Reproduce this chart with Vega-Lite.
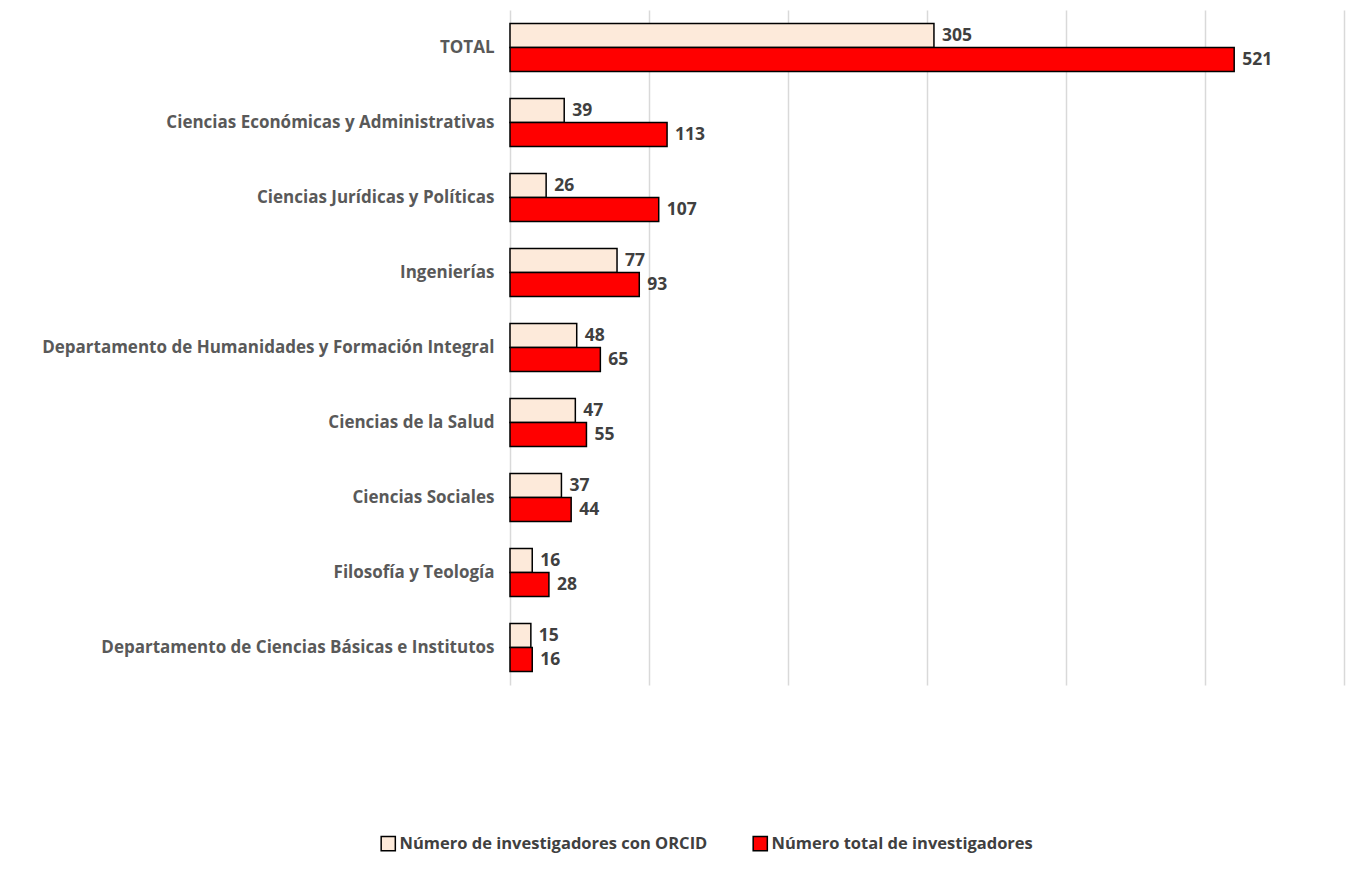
{
  "$schema": "https://vega.github.io/schema/vega-lite/v6.json",
  "autosize": {"type": "none"},
  "width": 834,
  "height": 675,
  "padding": {"left": 510, "top": 10, "right": 14, "bottom": 198},
  "background": "white",
  "config": {"view": {"stroke": null}, "font": "Open Sans"},
  "data": {"values": [
    {"cat": "TOTAL", "serie": "Número de investigadores con ORCID", "valor": 305},
    {"cat": "TOTAL", "serie": "Número total de investigadores", "valor": 521},
    {"cat": "Ciencias Económicas y Administrativas", "serie": "Número de investigadores con ORCID", "valor": 39},
    {"cat": "Ciencias Económicas y Administrativas", "serie": "Número total de investigadores", "valor": 113},
    {"cat": "Ciencias Jurídicas y Políticas", "serie": "Número de investigadores con ORCID", "valor": 26},
    {"cat": "Ciencias Jurídicas y Políticas", "serie": "Número total de investigadores", "valor": 107},
    {"cat": "Ingenierías", "serie": "Número de investigadores con ORCID", "valor": 77},
    {"cat": "Ingenierías", "serie": "Número total de investigadores", "valor": 93},
    {"cat": "Departamento de Humanidades y Formación Integral", "serie": "Número de investigadores con ORCID", "valor": 48},
    {"cat": "Departamento de Humanidades y Formación Integral", "serie": "Número total de investigadores", "valor": 65},
    {"cat": "Ciencias de la Salud", "serie": "Número de investigadores con ORCID", "valor": 47},
    {"cat": "Ciencias de la Salud", "serie": "Número total de investigadores", "valor": 55},
    {"cat": "Ciencias Sociales", "serie": "Número de investigadores con ORCID", "valor": 37},
    {"cat": "Ciencias Sociales", "serie": "Número total de investigadores", "valor": 44},
    {"cat": "Filosofía y Teología", "serie": "Número de investigadores con ORCID", "valor": 16},
    {"cat": "Filosofía y Teología", "serie": "Número total de investigadores", "valor": 28},
    {"cat": "Departamento de Ciencias Básicas e Institutos", "serie": "Número de investigadores con ORCID", "valor": 15},
    {"cat": "Departamento de Ciencias Básicas e Institutos", "serie": "Número total de investigadores", "valor": 16}
  ]},
  "encoding": {
    "y": {
      "field": "cat", "type": "nominal", "sort": null, "title": null,
      "scale": {"paddingInner": 0.36, "paddingOuter": 0.18},
      "axis": {"domain": false, "ticks": false, "labelPadding": 16, "labelFont": "Open Sans", "labelFontSize": 17, "labelFontWeight": "bold", "labelColor": "#595959", "labelLimit": 600}
    },
    "yOffset": {"field": "serie", "type": "nominal", "sort": ["Número de investigadores con ORCID", "Número total de investigadores"]},
    "x": {
      "field": "valor", "type": "quantitative", "title": null,
      "scale": {"domain": [0, 600], "nice": false},
      "axis": {"domain": false, "ticks": false, "labels": false, "grid": true, "gridColor": "#d9d9d9", "gridWidth": 1.5, "values": [0, 100, 200, 300, 400, 500, 600]}
    }
  },
  "layer": [
    {
      "mark": {"type": "bar", "stroke": "#000000", "strokeWidth": 1.5},
      "encoding": {
        "color": {
          "field": "serie", "type": "nominal", "title": null,
          "scale": {"domain": ["Número de investigadores con ORCID", "Número total de investigadores"], "range": ["#FDEADA", "#FF0000"]},
          "legend": {
            "orient": "none", "legendX": -130, "legendY": 825, "direction": "horizontal",
            "symbolType": "square", "symbolSize": 200, "symbolStrokeColor": "#000000", "symbolStrokeWidth": 1.5,
            "labelFont": "Open Sans", "labelFontSize": 16.5, "labelFontWeight": "bold", "labelColor": "#404040", "labelLimit": 400,
            "columnPadding": 42, "symbolOffset": 0, "labelOffset": 3
          }
        }
      }
    },
    {
      "mark": {"type": "text", "align": "left", "baseline": "middle", "dx": 8, "font": "Open Sans", "fontSize": 17.5, "fontWeight": "bold", "color": "#404040"},
      "encoding": {"text": {"field": "valor", "type": "quantitative"}}
    }
  ]
}
